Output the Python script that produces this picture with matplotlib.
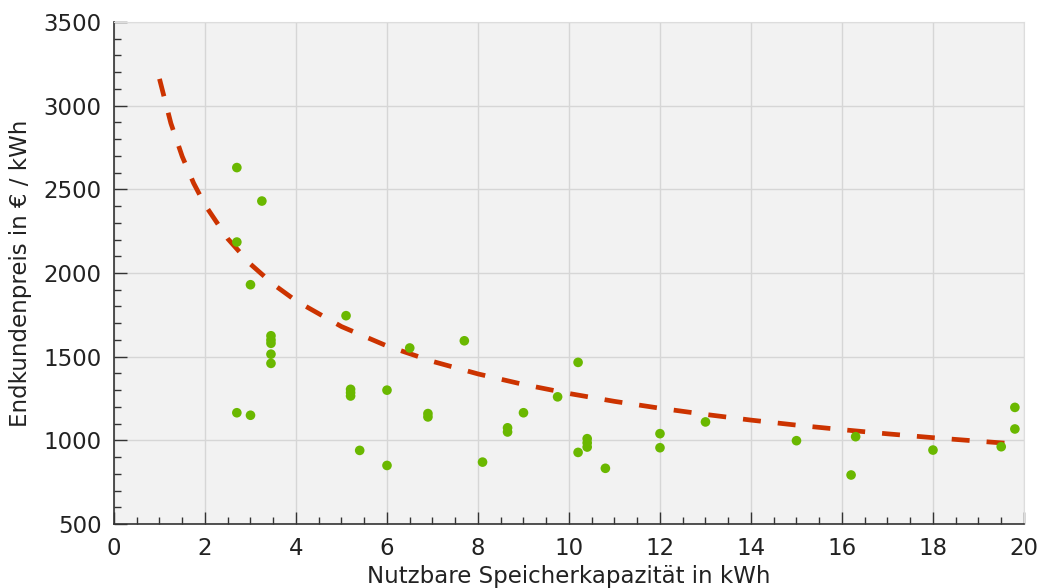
import numpy as np
import matplotlib.pyplot as plt
from matplotlib.ticker import MultipleLocator

# Speichersysteme: nutzbare Kapazität (kWh) und Endkundenpreis (EUR/kWh)
kapazitaet = [2.7, 3.25, 2.7, 3.0, 3.45, 3.45, 3.45, 3.45, 3.45, 2.7, 3.0,
              5.1, 5.2, 5.2, 5.2, 6.0, 5.4, 6.0, 6.5, 6.9, 6.9, 7.7, 8.1,
              8.65, 8.65, 9.0, 9.75, 10.2, 10.4, 10.4, 10.4, 10.2, 10.8,
              12.0, 12.0, 13.0, 15.0, 16.3, 16.2, 18.0, 19.5, 19.8, 19.8]
preis = [2630, 2430, 2185, 1930, 1625, 1600, 1580, 1515, 1460, 1165, 1150,
         1745, 1305, 1285, 1265, 1300, 940, 850, 1552, 1160, 1140, 1595, 870,
         1075, 1050, 1165, 1260, 1466, 1010, 985, 960, 928, 833,
         1040, 956, 1110, 998, 1022, 793, 942, 962, 1197, 1068]

# Ausgleichskurve
fit_x = [1.0, 1.25, 1.5, 1.75, 2.0, 2.5, 3.0, 3.5, 4.0, 5.0, 6.0, 7.0, 8.0,
         9.0, 10.0, 11.0, 12.0, 13.0, 14.0, 15.0, 16.0, 17.0, 18.0, 19.0, 19.8]
fit_y = [3160, 2895, 2696, 2537, 2407, 2205, 2053, 1933, 1834, 1680, 1564,
         1472, 1397, 1334, 1280, 1233, 1192, 1155, 1121, 1091, 1064, 1039,
         1016, 995, 979]

plt.rcParams['font.family'] = 'DejaVu Sans'

fig = plt.figure(figsize=(10.42, 5.88), dpi=100, facecolor='white')
ax = fig.add_axes([0.1094, 0.1088, 0.8733, 0.8538])
ax.set_facecolor('#f2f2f2')

ax.plot(fit_x, fit_y, color='#cc3300', lw=3.4, ls=(0, (3.8, 3.6)), zorder=3)
ax.scatter(kapazitaet, preis, s=48, color='#6ab800', edgecolors='none', zorder=4)

ax.set_xlim(0, 20)
ax.set_ylim(500, 3500)
ax.xaxis.set_major_locator(MultipleLocator(2))
ax.xaxis.set_minor_locator(MultipleLocator(0.5))
ax.yaxis.set_major_locator(MultipleLocator(500))
ax.yaxis.set_minor_locator(MultipleLocator(100))

ax.grid(True, which='major', color='#d6d6d6', lw=1)
ax.set_axisbelow(True)

ax.tick_params(which='both', direction='in', top=False, right=False,
               labelsize=16.5, labelcolor='#222222', color='#333333', pad=9)
ax.tick_params(which='major', length=9, width=1)
ax.tick_params(which='minor', length=5, width=1)

for side in ['left', 'bottom']:
    ax.spines[side].set_color('#333333')
    ax.spines[side].set_linewidth(1.2)
for side in ['top', 'right']:
    ax.spines[side].set_color('#dddddd')

ax.set_xlabel('Nutzbare Speicherkapazität in kWh', fontsize=16.5, color='#222222', labelpad=4)
ax.set_ylabel('Endkundenpreis in € / kWh', fontsize=16.5, color='#222222', labelpad=8)

fig.savefig('out.png', dpi=100, facecolor='white')
